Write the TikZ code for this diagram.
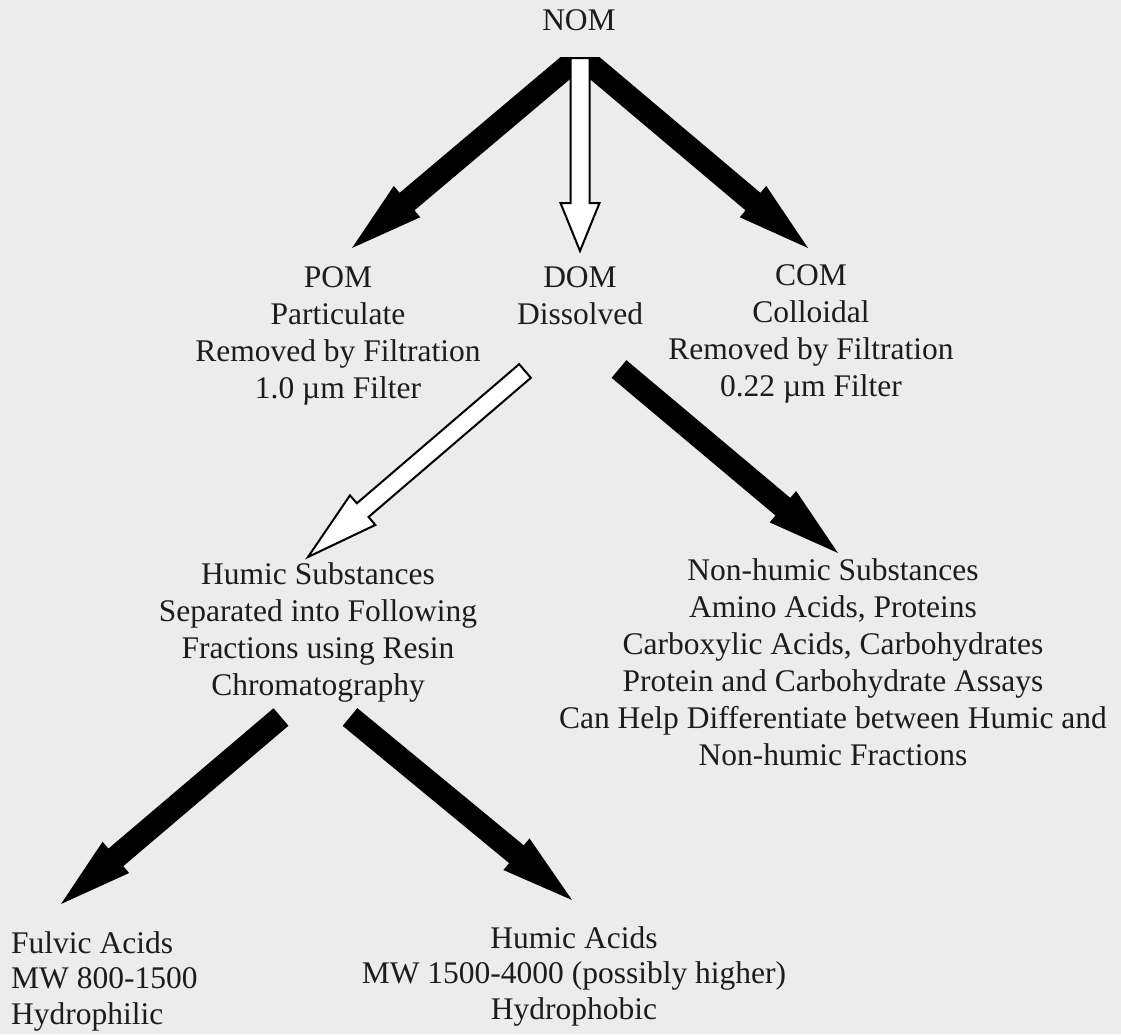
\documentclass[tikz,border=0pt]{standalone}
\usepackage{fontspec}
\setmainfont{Liberation Serif}
\usetikzlibrary{calc}
\definecolor{paper}{RGB}{236,236,236}
\definecolor{ink}{RGB}{28,28,28}
% #1 style, #2 tail, #3 tip, #4 shaft half width, #5 head half width, #6 head length
\newcommand{\blockarrow}[6]{%
  \coordinate (hb) at ($(#3)!#6!(#2)$);
  \path[#1] ($(#2)!#4!90:(#3)$) -- ($(hb)!#4!90:(#3)$) -- ($(hb)!#5!90:(#3)$)
    -- (#3) -- ($(hb)!#5!-90:(#3)$) -- ($(hb)!#4!-90:(#3)$) -- ($(#2)!#4!-90:(#3)$) -- cycle;
}
\begin{document}
\begin{tikzpicture}[x=1pt,y=-1pt,
  lbl/.style={inner sep=0pt, align=center, text=ink,
    font=\fontsize{31.5}{37}\selectfont},
  lblb/.style={lbl, font=\fontsize{31.5}{35.5}\selectfont},
  solidarrow/.style={fill=black},
  hollowarrow/.style={fill=white, draw=black, line width=2pt, line join=miter}]
\useasboundingbox (0,0) rectangle (1121,1034);
\fill[paper] (0,0) rectangle (1121,1034);

% text nodes
\node[lbl, anchor=north] (nom) at (579,9) {NOM};
\node[lbl, anchor=north] (pom) at (338,266) {POM\\Particulate\\Removed by Filtration\\1.0 µm Filter};
\node[lbl, anchor=north] (dom) at (580,266) {DOM\\Dissolved};
\node[lbl, anchor=north] (com) at (811,264) {COM\\Colloidal\\Removed by Filtration\\0.22 µm Filter};
\node[lbl, anchor=north] (hs) at (318,562) {Humic Substances\\Separated into Following\\Fractions using Resin\\Chromatography};
\node[lbl, anchor=north] (nhs) at (833,558) {Non-humic Substances\\Amino Acids, Proteins\\Carboxylic Acids, Carbohydrates\\Protein and Carbohydrate Assays\\Can Help Differentiate between Humic and\\Non-humic Fractions};
\node[lblb, anchor=north west, align=left] (fa) at (11,931) {Fulvic Acids\\MW 800-1500\\Hydrophilic};
\node[lblb, anchor=north] (ha) at (574,926) {Humic Acids\\MW 1500-4000 (possibly higher)\\Hydrophobic};

% connector end points
\coordinate (nom-l) at (582,54);
\coordinate (nom-r) at (578,54);
\coordinate (nom-d) at (580,58);
\coordinate (pom-t) at (352,248);
\coordinate (com-t) at (808,248);
\coordinate (dom-t) at (580,251);
\coordinate (dom-a) at (525,371);
\coordinate (dom-b) at (619,369);
\coordinate (hs-t) at (308,557);
\coordinate (nhs-t) at (838,553);
\coordinate (hs-a) at (281,717);
\coordinate (hs-b) at (350,717);
\coordinate (fa-t) at (61,904);
\coordinate (ha-t) at (572,900);

% NOM -> POM, COM (solid), NOM -> DOM (hollow)
\begin{scope}
  \clip (0,57) rectangle (1121,1034);
  \blockarrow{solidarrow}{nom-l}{pom-t}{11.5pt}{20.5pt}{72pt}
  \blockarrow{solidarrow}{nom-r}{com-t}{11.5pt}{20.5pt}{72pt}
\end{scope}
\blockarrow{hollowarrow}{nom-d}{dom-t}{9.5pt}{19.5pt}{48pt}

% DOM -> humic (hollow), DOM -> non-humic (solid)
\blockarrow{hollowarrow}{dom-a}{hs-t}{9pt}{19.5pt}{72pt}
\blockarrow{solidarrow}{dom-b}{nhs-t}{11.5pt}{20.5pt}{72pt}

% humic substances -> fulvic, humic acids
\blockarrow{solidarrow}{hs-a}{fa-t}{11.5pt}{20.5pt}{72pt}
\blockarrow{solidarrow}{hs-b}{ha-t}{11.5pt}{20.5pt}{72pt}
\end{tikzpicture}
\end{document}
